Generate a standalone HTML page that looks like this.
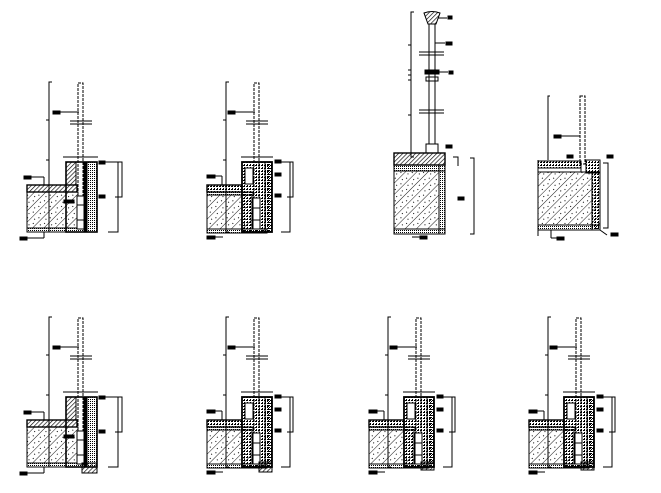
<!DOCTYPE html>
<html><head><meta charset="utf-8"><style>html,body{margin:0;padding:0;background:#fff}svg{display:block}</style></head>
<body>
<svg width="661" height="493" viewBox="0 0 661 493" xmlns="http://www.w3.org/2000/svg">
<defs>
<pattern id="h" width="8" height="8" patternUnits="userSpaceOnUse" patternTransform="rotate(45)"><line x1="0" y1="0" x2="0" y2="8" stroke="#000" stroke-width="0.9"/><rect x="3" y="2" width="1" height="1" fill="#000"/><rect x="5" y="6" width="1" height="1" fill="#000"/></pattern>
<pattern id="d" width="2" height="2" patternUnits="userSpaceOnUse"><rect width="1" height="1" fill="#000"/></pattern>
<pattern id="dk" width="3" height="3" patternUnits="userSpaceOnUse"><rect width="2" height="1" fill="#000"/><rect x="1" y="2" width="1" height="1" fill="#000"/></pattern>
<pattern id="x" width="3" height="3" patternUnits="userSpaceOnUse" patternTransform="rotate(45)"><line x1="0" y1="0" x2="0" y2="3" stroke="#000" stroke-width="1.3"/></pattern>
<g id="a" fill="none" stroke="#000" stroke-width="1">
  <path d="M52 82 H49 V232 H52"/>
  <line x1="46" y1="120" x2="49" y2="120"/><line x1="46" y1="160" x2="49" y2="160"/><line x1="46" y1="185" x2="49" y2="185"/>
  <rect x="78" y="83" width="5" height="117" stroke-dasharray="3 1"/>
  <line x1="70" y1="121" x2="92" y2="121"/><line x1="70" y1="124" x2="92" y2="124"/>
  <rect x="66" y="162" width="31" height="70" stroke-width="1.6"/>
  <rect x="66" y="162" width="10" height="23" fill="url(#x)"/>
  <rect x="84" y="162" width="13" height="70" fill="url(#d)"/>
  <rect x="84" y="162" width="3" height="70" fill="#000"/>
  <rect x="27" y="185" width="50" height="7" fill="url(#x)" stroke-width="1.4"/>
  <rect x="27" y="192" width="51" height="36" fill="url(#h)"/>
  <rect x="27" y="228" width="59" height="4" fill="url(#d)"/>
  <rect x="77" y="196" width="7" height="33" fill="#fff"/>
  <line x1="77" y1="205" x2="84" y2="205"/><line x1="77" y1="220" x2="84" y2="220"/>
  <line x1="63" y1="157" x2="98" y2="157"/>
  <path d="M105 162 H118 V232 H108"/><path d="M115 162 H122 V197 H115"/>
  <rect x="24" y="176" width="7" height="3" fill="#000"/><line x1="31" y1="177" x2="44" y2="177"/><line x1="44" y1="177" x2="44" y2="185"/>
  <rect x="20" y="237" width="7" height="3" fill="#000"/><line x1="27" y1="238" x2="44" y2="238"/><line x1="44" y1="238" x2="44" y2="232"/>
  <rect x="53" y="111" width="7" height="3" fill="#000"/><line x1="60" y1="112" x2="79" y2="112"/>
  <rect x="99" y="161" width="6" height="3" fill="#000"/><rect x="99" y="195" width="6" height="3" fill="#000"/>
  <rect x="64" y="200" width="10" height="3" fill="#000"/>
</g>
<g id="b" fill="none" stroke="#000" stroke-width="1">
  <path d="M52 82 H49 V232 H52"/>
  <line x1="46" y1="120" x2="49" y2="120"/><line x1="46" y1="160" x2="49" y2="160"/>
  <rect x="77" y="83" width="5" height="115" stroke-dasharray="3 1"/>
  <line x1="69" y1="121" x2="91" y2="121"/><line x1="69" y1="124" x2="91" y2="124"/>
  <rect x="30" y="185" width="35" height="7" fill="url(#dk)" stroke-width="1.4"/>
  <rect x="30" y="192" width="46" height="3" fill="url(#d)"/>
  <rect x="30" y="195" width="45" height="34" fill="url(#h)"/>
  <rect x="30" y="229" width="60" height="4" fill="url(#d)"/>
  <rect x="65" y="162" width="30" height="70" fill="url(#dk)" stroke-width="1.8"/>
  <rect x="88" y="162" width="7" height="70" fill="url(#d)"/>
  <rect x="68" y="168" width="8" height="16" fill="#fff"/>
  <rect x="76" y="198" width="7" height="31" fill="#fff"/>
  <line x1="76" y1="208" x2="83" y2="208"/><line x1="76" y1="220" x2="83" y2="220"/>
  <line x1="64" y1="157" x2="96" y2="157"/>
  <path d="M100 162 H113 V232 H104"/><path d="M110 162 H116 V197 H110"/>
  <rect x="30" y="175" width="8" height="3" fill="#000"/><line x1="38" y1="176" x2="45" y2="176"/><line x1="45" y1="176" x2="45" y2="185"/>
  <rect x="30" y="236" width="8" height="3" fill="#000"/><line x1="38" y1="237" x2="46" y2="237"/>
  <rect x="51" y="111" width="7" height="3" fill="#000"/><line x1="58" y1="112" x2="78" y2="112"/>
  <rect x="98" y="160" width="6" height="3" fill="#000"/><rect x="98" y="173" width="6" height="3" fill="#000"/><rect x="98" y="194" width="6" height="3" fill="#000"/>
</g>
</defs>
<use href="#a"/>
<use href="#b" transform="translate(177 0)"/>
<use href="#a" transform="translate(0 235)"/>
<rect x="82" y="463" width="15" height="10" fill="url(#x)" stroke="#000"/>
<use href="#b" transform="translate(177 235)"/>
<use href="#b" transform="translate(339 235)"/>
<use href="#b" transform="translate(499 235)"/>
<g fill="url(#x)" stroke="#000">
<rect x="259" y="462" width="13" height="10"/><rect x="421" y="462" width="13" height="8"/><rect x="581" y="462" width="13" height="8"/>
</g>
<!-- detail 3: tall post -->
<g fill="none" stroke="#000" stroke-width="1">
  <path d="M414 12 H411 V157 H414"/>
  <line x1="408" y1="45" x2="411" y2="45"/><line x1="408" y1="70" x2="411" y2="70"/><line x1="408" y1="75" x2="411" y2="75"/><line x1="408" y1="80" x2="411" y2="80"/><line x1="408" y1="115" x2="411" y2="115"/>
  <path d="M424 13 Q432 10 440 13 L436 24 H428 Z" fill="url(#x)"/>
  <line x1="438" y1="18" x2="447" y2="18"/>
  <rect x="429" y="24" width="6" height="120"/>
  <line x1="419" y1="52" x2="444" y2="52"/><line x1="419" y1="55" x2="444" y2="55"/>
  <line x1="419" y1="110" x2="444" y2="110"/><line x1="419" y1="113" x2="444" y2="113"/>
  <rect x="425" y="70" width="14" height="4" fill="#000"/><rect x="426" y="77" width="12" height="4"/>
  <line x1="439" y1="72" x2="448" y2="72"/><line x1="435" y1="43" x2="445" y2="43"/>
  <rect x="426" y="144" width="12" height="9"/>
  <rect x="394" y="153" width="51" height="12" fill="url(#x)" stroke-width="1.4"/>
  <rect x="394" y="165" width="51" height="6" fill="url(#d)"/>
  <rect x="394" y="171" width="45" height="58" fill="url(#h)"/>
  <rect x="439" y="165" width="6" height="69" fill="url(#d)"/>
  <rect x="394" y="229" width="51" height="5" fill="url(#d)"/>
  <path d="M470 158 H474 V234 H470"/><path d="M453 157 H458 V166"/>
  <rect x="448" y="16" width="4" height="3" fill="#000"/><rect x="446" y="42" width="6" height="3" fill="#000"/><rect x="449" y="71" width="4" height="3" fill="#000"/>
  <rect x="446" y="145" width="6" height="3" fill="#000"/><rect x="458" y="197" width="6" height="3" fill="#000"/>
  <rect x="420" y="236" width="7" height="3" fill="#000"/><line x1="412" y1="237" x2="420" y2="237"/>
</g>
<!-- detail 4 -->
<g fill="none" stroke="#000" stroke-width="1">
  <path d="M550 96 H548 V160"/>
  <rect x="580" y="96" width="5" height="68" stroke-dasharray="3 1"/>
  <rect x="538" y="161" width="43" height="7" fill="url(#dk)"/>
  <rect x="538" y="168" width="43" height="4"/>
  <rect x="538" y="172" width="62" height="53" fill="url(#h)"/>
  <rect x="586" y="160" width="14" height="13" fill="url(#dk)"/>
  <rect x="592" y="173" width="8" height="57" fill="url(#dk)"/>
  <rect x="538" y="225" width="62" height="5" fill="url(#d)"/>
  <line x1="538" y1="160" x2="538" y2="236"/>
  <path d="M603 163 H608 V228 H603"/>
  <line x1="600" y1="230" x2="607" y2="235"/>
  <rect x="554" y="135" width="7" height="3" fill="#000"/><line x1="561" y1="136" x2="580" y2="136"/>
  <rect x="567" y="155" width="6" height="3" fill="#000"/><rect x="607" y="155" width="6" height="3" fill="#000"/>
  <rect x="611" y="233" width="7" height="3" fill="#000"/>
  <rect x="557" y="237" width="7" height="3" fill="#000"/><line x1="551" y1="238" x2="557" y2="238"/><line x1="551" y1="230" x2="551" y2="238"/>
</g>
</svg>
</body></html>
